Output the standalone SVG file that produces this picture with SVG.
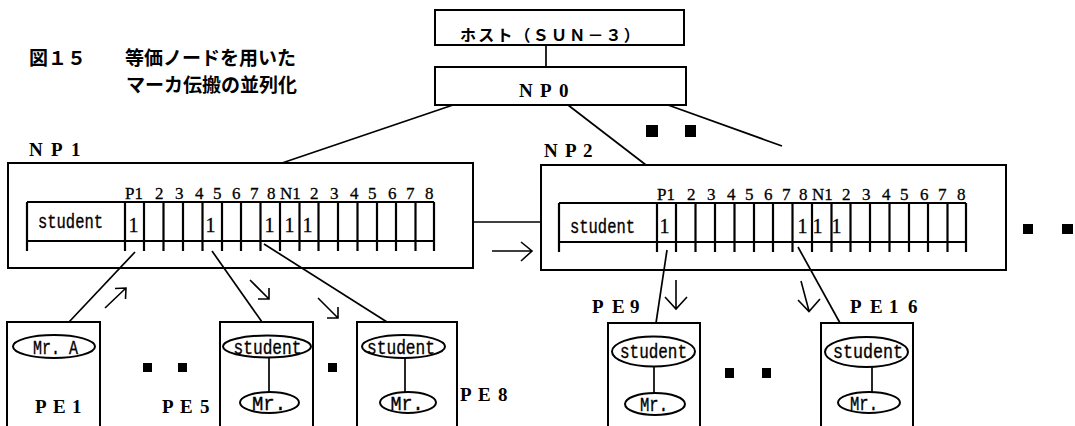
<svg xmlns="http://www.w3.org/2000/svg" width="1075" height="426" viewBox="0 0 1075 426">
<style>
.box{fill:none;stroke:#000;stroke-width:2}
.ln{fill:none;stroke:#000;stroke-width:1.7}
.grid{fill:none;stroke:#000;stroke-width:2.2}
.arr{fill:none;stroke:#000;stroke-width:1.6}
.jp{font-family:"Noto Sans CJK JP","Noto Sans CJK SC",sans-serif;font-weight:bold;fill:#000}
.lbl{font-family:"Liberation Serif",serif;font-weight:bold;font-size:19px;fill:#000}
.hdr{font-family:"Liberation Serif",serif;font-size:17px;fill:#000;stroke:#000;stroke-width:0.3}
.val{font-family:"Liberation Serif",serif;font-size:20px;fill:#000;stroke:#000;stroke-width:0.3}
.mono{font-family:"Liberation Mono",monospace;font-size:20px;fill:#000;stroke:#000;stroke-width:0.35}
.ell{fill:#fff;stroke:#000;stroke-width:2}
.sq{fill:#000}
</style>
<defs>
<path id="grid" class="grid" d="M27 202H434M27 241H434M27 202V251M125 202V251M144 202V251M163.5 202V251M183 202V251M202.5 202V251M222 202V251M241 202V251M260.5 202V251M280 202V251M299.5 202V251M318.5 202V251M338 202V251M357.5 202V251M377 202V251M396 202V251M415.5 202V251M434 202V251"/>
</defs>
<rect x="0" y="0" width="1075" height="426" fill="#fff"/>

<g id="title" class="jp">
<text x="29" y="65" font-size="19">図１５</text>
<text x="125" y="65" font-size="19">等価ノードを用いた</text>
<text x="126" y="92" font-size="19">マーカ伝搬の並列化</text>
</g>

<g id="connectors">
<path class="ln" d="M546 45V67"/>
<path class="ln" d="M453 105L282 163"/>
<path class="ln" d="M568 105L646 165"/>
<path class="ln" d="M668 105L782 146"/>
<path class="ln" d="M473 222H541"/>
<path class="ln" d="M135 252L69 322"/>
<path class="ln" d="M212 251L262 322"/>
<path class="ln" d="M264 244L387 322"/>
<path class="ln" d="M667 250L656 323"/>
<path class="ln" d="M798 247L840 323"/>
<path class="arr" d="M492 251H532M521 242L532 251L521 261"/>
<path class="arr" d="M105 308L126 288M115 288.5L126 288L125.5 299"/>
<path class="arr" d="M250 280L269 299M269 288V299H258"/>
<path class="arr" d="M318 298L338 318M338 307V318H327"/>
<path class="arr" d="M676 280V309M665 297L676 309L687 297"/>
<path class="arr" d="M801 281L809 311M798 300L809 311.5L820 299"/>
</g>

<g id="ellipsis">
<rect class="sq" x="646" y="125" width="12" height="12"/>
<rect class="sq" x="685" y="125" width="11" height="12"/>
<rect class="sq" x="1023" y="224" width="10" height="10"/>
<rect class="sq" x="1062" y="224" width="11" height="10"/>
<rect class="sq" x="143" y="363" width="9" height="9"/>
<rect class="sq" x="178" y="363" width="9" height="9"/>
<rect class="sq" x="328" y="363" width="9" height="9"/>
<rect class="sq" x="725" y="368" width="9" height="10"/>
<rect class="sq" x="762" y="368" width="9" height="10"/>
</g>

<g id="host">
<rect class="box" x="435" y="10" width="249" height="35"/>
<text class="jp" x="460" y="41" font-size="16" letter-spacing="2.2">ホスト（ＳＵＮ－３）</text>
</g>

<g id="np0">
<rect class="box" x="435" y="67" width="251" height="38"/>
<text class="lbl" x="519 540 559" y="97">NP0</text>
</g>

<g id="np1">
<rect class="box" x="8" y="163" width="465" height="105"/>
<text class="lbl" x="29 51 71" y="156">NP1</text>
<use href="#grid"/>
<text class="mono" x="38" y="228" textLength="65" lengthAdjust="spacingAndGlyphs">student</text>
<text class="hdr" y="199"><tspan x="125">P1</tspan><tspan x="155">2</tspan><tspan x="175">3</tspan><tspan x="195">4</tspan><tspan x="213">5</tspan><tspan x="232">6</tspan><tspan x="250">7</tspan><tspan x="267">8</tspan><tspan x="280">N1</tspan><tspan x="310">2</tspan><tspan x="330">3</tspan><tspan x="350">4</tspan><tspan x="368">5</tspan><tspan x="388">6</tspan><tspan x="406">7</tspan><tspan x="425">8</tspan></text>
<text class="val" y="232" text-anchor="middle"><tspan x="133.5">1</tspan><tspan x="210.5">1</tspan><tspan x="269.5">1</tspan><tspan x="289.5">1</tspan><tspan x="307.5">1</tspan></text>
</g>

<g id="np2">
<rect class="box" x="541" y="165" width="465" height="105"/>
<text class="lbl" x="544 565 583" y="157">NP2</text>
<use href="#grid" x="532" y="1"/>
<text class="mono" x="570" y="233" textLength="65" lengthAdjust="spacingAndGlyphs">student</text>
<text class="hdr" y="200"><tspan x="657">P1</tspan><tspan x="687">2</tspan><tspan x="707">3</tspan><tspan x="727">4</tspan><tspan x="745">5</tspan><tspan x="764">6</tspan><tspan x="782">7</tspan><tspan x="799">8</tspan><tspan x="812">N1</tspan><tspan x="842">2</tspan><tspan x="862">3</tspan><tspan x="882">4</tspan><tspan x="900">5</tspan><tspan x="920">6</tspan><tspan x="938">7</tspan><tspan x="957">8</tspan></text>
<text class="val" y="233" text-anchor="middle"><tspan x="664.5">1</tspan><tspan x="802.5">1</tspan><tspan x="817.5">1</tspan><tspan x="836.5">1</tspan></text>
</g>

<g id="pe1">
<path class="box" d="M7 430V322H100V430"/>
<ellipse class="ell" cx="54" cy="346.5" rx="41" ry="11.5"/>
<text class="mono" x="55.5" y="354" text-anchor="middle" textLength="45" lengthAdjust="spacingAndGlyphs">Mr. A</text>
<text class="lbl" x="35 53 72" y="413">PE1</text>
</g>

<g id="pe5">
<path class="box" d="M220 430V322H313V430"/>
<ellipse class="ell" cx="267" cy="346.5" rx="44" ry="11"/>
<path class="ln" d="M269 357.5V392"/>
<ellipse class="ell" cx="269.5" cy="402.5" rx="29.5" ry="10.5"/>
<text class="mono" x="267.5" y="354" text-anchor="middle" textLength="68" lengthAdjust="spacingAndGlyphs">student</text>
<text class="mono" x="269" y="410" text-anchor="middle" textLength="34" lengthAdjust="spacingAndGlyphs">Mr.</text>
<text class="lbl" x="162 180 200" y="413">PE5</text>
</g>

<g id="pe8">
<path class="box" d="M357 430V322H457V430"/>
<ellipse class="ell" cx="403.5" cy="346.5" rx="41.5" ry="11.5"/>
<path class="ln" d="M405 358V392"/>
<ellipse class="ell" cx="408" cy="402.5" rx="28" ry="10.5"/>
<text class="mono" x="401" y="354" text-anchor="middle" textLength="68" lengthAdjust="spacingAndGlyphs">student</text>
<text class="mono" x="407" y="410" text-anchor="middle" textLength="33" lengthAdjust="spacingAndGlyphs">Mr.</text>
<text class="lbl" x="460 478 498" y="401">PE8</text>
</g>

<g id="pe9">
<path class="box" d="M608 430V323H700V430"/>
<ellipse class="ell" cx="653.5" cy="351.5" rx="41.5" ry="15"/>
<path class="ln" d="M654 366.5V393"/>
<ellipse class="ell" cx="655" cy="404" rx="30" ry="11"/>
<text class="mono" x="653.5" y="358" text-anchor="middle" textLength="67" lengthAdjust="spacingAndGlyphs">student</text>
<text class="mono" x="654" y="411" text-anchor="middle" textLength="28" lengthAdjust="spacingAndGlyphs">Mr.</text>
<text class="lbl" x="592 612 630" y="313">PE9</text>
</g>

<g id="pe16">
<path class="box" d="M821 430V323H913V430"/>
<ellipse class="ell" cx="866.5" cy="352" rx="41.5" ry="15"/>
<path class="ln" d="M872 367V392"/>
<ellipse class="ell" cx="869" cy="402.5" rx="31" ry="10.5"/>
<text class="mono" x="868" y="358" text-anchor="middle" textLength="70" lengthAdjust="spacingAndGlyphs">student</text>
<text class="mono" x="864" y="410" text-anchor="middle" textLength="28" lengthAdjust="spacingAndGlyphs">Mr.</text>
<text class="lbl" x="850 870 889 908" y="313">PE16</text>
</g>
</svg>
